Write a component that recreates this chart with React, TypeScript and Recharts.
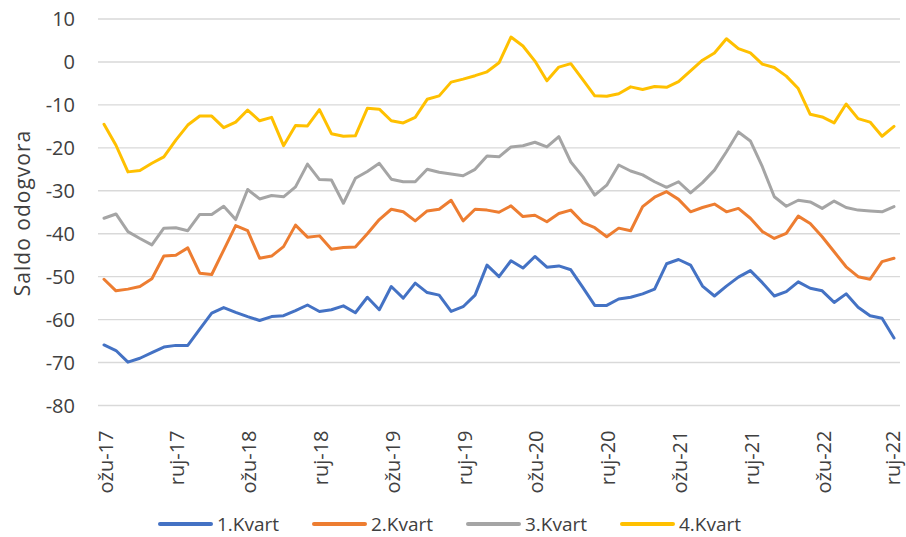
import { LineChart, Line, XAxis, YAxis, CartesianGrid, Legend } from "recharts";

const MONTHS = ["sij", "velj", "ožu", "tra", "svi", "lip", "srp", "kol", "ruj", "lis", "stu", "pro"];
const START_YEAR = 17;
const START_MONTH = 2; // ožujak
const COUNT = 67;

const categories: string[] = Array.from({ length: COUNT }, (_, i) => {
  const m = START_MONTH + i;
  return `${MONTHS[m % 12]}-${START_YEAR + Math.floor(m / 12)}`;
});

const kvart1 = [
  -65.9, -67.2, -69.9, -69.0, -67.7, -66.4, -66.0, -66.0, -62.2, -58.5,
  -57.2, -58.3, -59.3, -60.2, -59.3, -59.1, -57.9, -56.6, -58.1, -57.7,
  -56.8, -58.4, -54.8, -57.7, -52.3, -55.0, -51.5, -53.7, -54.3, -58.1,
  -57.0, -54.3, -47.3, -50.0, -46.3, -48.0, -45.3, -47.8, -47.5, -48.4,
  -52.5, -56.7, -56.7, -55.2, -54.8, -54.0, -52.9, -47.0, -46.0, -47.3,
  -52.2, -54.5, -52.2, -50.1, -48.6, -51.4, -54.5, -53.5, -51.2, -52.7,
  -53.3, -56.0, -54.0, -57.1, -59.1, -59.7, -64.3,
];

const kvart2 = [
  -50.6, -53.3, -52.9, -52.3, -50.5, -45.2, -45.0, -43.3, -49.2, -49.5,
  -43.8, -38.1, -39.3, -45.7, -45.2, -43.0, -38.0, -40.8, -40.5, -43.6,
  -43.2, -43.1, -40.0, -36.7, -34.3, -34.9, -37.0, -34.7, -34.3, -32.2,
  -37.0, -34.3, -34.5, -35.0, -33.5, -36.0, -35.7, -37.2, -35.3, -34.5,
  -37.4, -38.6, -40.7, -38.7, -39.3, -33.7, -31.5, -30.2, -32.0, -34.9,
  -33.9, -33.1, -34.9, -34.1, -36.4, -39.5, -41.1, -39.9, -35.9, -37.6,
  -40.7, -44.2, -47.7, -50.0, -50.6, -46.5, -45.7,
];

const kvart3 = [
  -36.4, -35.4, -39.5, -41.1, -42.6, -38.7, -38.6, -39.3, -35.5, -35.5,
  -33.6, -36.7, -29.7, -31.9, -31.1, -31.4, -29.1, -23.8, -27.4, -27.5,
  -32.9, -27.1, -25.5, -23.6, -27.3, -27.9, -27.9, -25.0, -25.7, -26.1,
  -26.5, -25.0, -21.9, -22.1, -19.8, -19.5, -18.7, -19.8, -17.4, -23.3,
  -26.7, -31.0, -28.7, -24.0, -25.4, -26.3, -27.9, -29.2, -27.9, -30.5,
  -28.1, -25.2, -20.9, -16.3, -18.4, -24.4, -31.4, -33.6, -32.2, -32.6,
  -34.1, -32.4, -33.9, -34.5, -34.7, -34.9, -33.7,
];

const kvart4 = [
  -14.5, -19.4, -25.6, -25.3, -23.6, -22.1, -18.2, -14.7, -12.6, -12.6,
  -15.3, -14.0, -11.2, -13.7, -12.9, -19.5, -14.8, -14.9, -11.1, -16.7,
  -17.3, -17.2, -10.8, -11.0, -13.7, -14.2, -12.9, -8.7, -7.9, -4.7,
  -4.0, -3.2, -2.3, -0.2, 5.8, 3.7, 0.2, -4.4, -1.2, -0.4,
  -4.1, -7.9, -8.0, -7.4, -5.8, -6.4, -5.7, -5.9, -4.6, -2.1,
  0.4, 2.1, 5.4, 3.1, 2.1, -0.5, -1.3, -3.3, -6.2, -12.2,
  -12.8, -14.2, -9.8, -13.2, -14.0, -17.3, -15.0,
];

const yTicks = [-80, -70, -60, -50, -40, -30, -20, -10, 0, 10];

const SERIES = [
  { key: "k1", name: "1.Kvart", color: "#4472C4" },
  { key: "k2", name: "2.Kvart", color: "#ED7D31" },
  { key: "k3", name: "3.Kvart", color: "#A5A5A5" },
  { key: "k4", name: "4.Kvart", color: "#FFC000" },
];

const data = categories.map((month, i) => ({
  month,
  k1: kvart1[i],
  k2: kvart2[i],
  k3: kvart3[i],
  k4: kvart4[i],
}));

const FONT = "'Open Sans', sans-serif";
const TEXT_COLOR = "#404040";

function XTick({ x, y, payload }: any) {
  // keep the last label inside the picture
  const tx = Math.min(x + 1, 892);
  return (
    <g transform={`translate(${tx}, ${y + 17}) rotate(-90)`}>
      <text
        x={0}
        y={0}
        textAnchor="end"
        dominantBaseline="central"
        fontSize={20}
        fontFamily={FONT}
        fill={TEXT_COLOR}
      >
        {payload.value}
      </text>
    </g>
  );
}

// legend drawn as svg so the text boxes stay inside the picture
function LegendContent() {
  return (
    <svg width={906} height={36} style={{ display: "block" }}>
      {SERIES.map((s, idx) => {
        const x0 = 158 + idx * 154;
        return (
          <g key={s.key}>
            <line x1={x0 + 2} y1={23} x2={x0 + 53} y2={23} stroke={s.color} strokeWidth={4} strokeLinecap="round" />
            <text
              x={x0 + 59}
              y={23}
              dominantBaseline="central"
              fontSize={19}
              fontFamily={FONT}
              fill={TEXT_COLOR}
            >
              {s.name}
            </text>
          </g>
        );
      })}
    </svg>
  );
}

export default function App() {
  return (
    <div style={{ position: "absolute", left: 0, top: 0, background: "#fff" }}>
      <LineChart
        width={906}
        height={537}
        data={data}
        margin={{ top: 19, right: 6, left: 8, bottom: 0 }}
      >
        <CartesianGrid vertical={false} stroke="#d9d9d9" strokeWidth={1.4} />
        <XAxis
          dataKey="month"
          interval={5}
          tick={<XTick />}
          tickLine={false}
          axisLine={false}
          height={95.5}
          padding={{ left: 6, right: 6 }}
        />
        <YAxis
          domain={[-80, 10]}
          ticks={yTicks}
          interval={0}
          tickLine={false}
          axisLine={false}
          width={90}
          tickMargin={17}
          tick={{ fontSize: 20, fontFamily: FONT, fill: TEXT_COLOR }}
          label={{
            content: () => (
              <text
                x={22}
                y={213}
                transform="rotate(-90, 22, 213)"
                textAnchor="middle"
                dominantBaseline="central"
                fontSize={21}
                letterSpacing={1}
                fontFamily={FONT}
                fill={TEXT_COLOR}
              >
                Saldo odogvora
              </text>
            ),
          }}
        />
        <Legend
          verticalAlign="bottom"
          height={36}
          wrapperStyle={{ left: 0, width: 906 }}
          content={<LegendContent />}
        />
        {SERIES.map((s) => (
          <Line
            key={s.key}
            type="linear"
            dataKey={s.key}
            name={s.name}
            stroke={s.color}
            strokeWidth={3}
            strokeLinejoin="round"
            strokeLinecap="round"
            dot={false}
            activeDot={false}
            isAnimationActive={false}
          />
        ))}
      </LineChart>
    </div>
  );
}
